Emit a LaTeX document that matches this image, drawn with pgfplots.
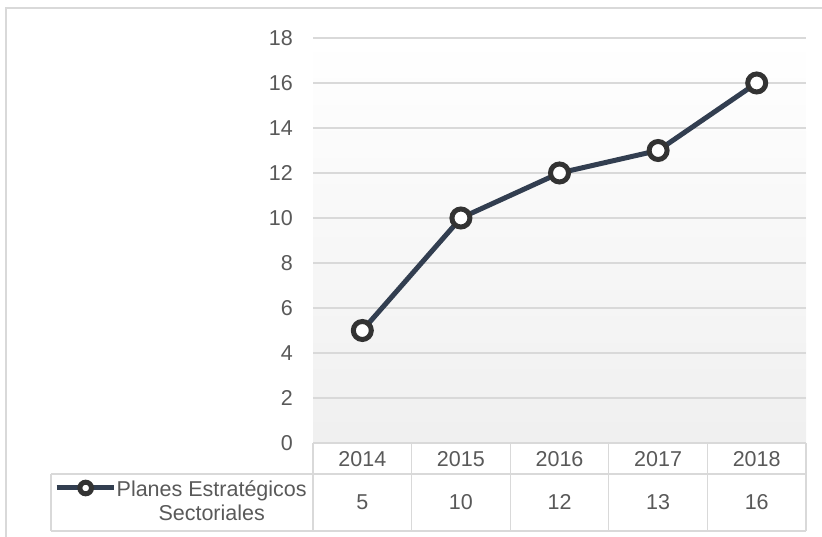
\documentclass[border=0pt]{standalone}
\usepackage{pgfplots}
\pgfplotsset{compat=1.18}
\usepackage{fontspec}
\setmainfont{Liberation Sans}
\definecolor{txt}{HTML}{595959}
\definecolor{gridc}{HTML}{D9D9D9}
\definecolor{ser}{HTML}{323E50}
\definecolor{mk}{HTML}{333333}
\newcommand{\tf}{\fontsize{21.5bp}{24bp}\selectfont}
\begin{document}
\begin{tikzpicture}[x=1bp,y=1bp]
\useasboundingbox (0,0) rectangle (822,537);
\draw[gridc, line width=1.3bp] (6,0) -- (6,529) -- (822,529);
\begin{axis}[
  at={(313bp,94bp)}, anchor=south west,
  width=493bp, height=405bp, scale only axis,
  xmin=0.5, xmax=5.5, ymin=0, ymax=18,
  ytick={0,2,...,18}, xtick=\empty,
  axis line style={draw=none},
  major tick length=0pt,
  ymajorgrids, grid style={gridc, line width=1.3bp},
  yticklabel style={font=\tf, text=txt, inner sep=0pt, xshift=-20bp, /pgf/number format/assume math mode=true},
  axis background/.style={shade, top color=white, bottom color=black!6},
  clip=false,
  legend style={at={(-0.5254,-0.1432)}, anchor=west, draw=none, fill=none, inner sep=0pt,
    font=\tf, text=txt, cells={align=center}, nodes={inner sep=0.5bp}},
  legend image code/.code={\draw[mark repeat=2,mark phase=2,#1, line width=5bp, mark size=5.8bp, mark options={fill=white, draw=mk, line width=5bp}] plot coordinates {(2bp,13bp) (31bp,13bp) (59bp,13bp)};},
]
\addplot[ser, line width=5bp, mark=*, mark size=9bp, mark options={fill=white, draw=mk, line width=5bp}]
  coordinates {(1,5) (2,10) (3,12) (4,13) (5,16)};
\addlegendentry{Planes Estratégicos\\Sectoriales}
\end{axis}
\begin{scope}[gridc, line width=1.3bp]
\draw (313,94) -- (806,94);
\draw (51,63) -- (806,63);
\draw (51,6) -- (806,6);
\draw (51,63) -- (51,6);
\foreach \xx in {313,411.6,510.2,608.8,707.4,806} {\draw (\xx,94) -- (\xx,6);}
\end{scope}
\begin{scope}[font=\tf, text=txt]
\node at (362.3,78) {2014};
\node at (460.9,78) {2015};
\node at (559.5,78) {2016};
\node at (658.1,78) {2017};
\node at (756.7,78) {2018};
\node at (362.3,35) {5};
\node at (460.9,35) {10};
\node at (559.5,35) {12};
\node at (658.1,35) {13};
\node at (756.7,35) {16};
\end{scope}
\end{tikzpicture}
\end{document}
